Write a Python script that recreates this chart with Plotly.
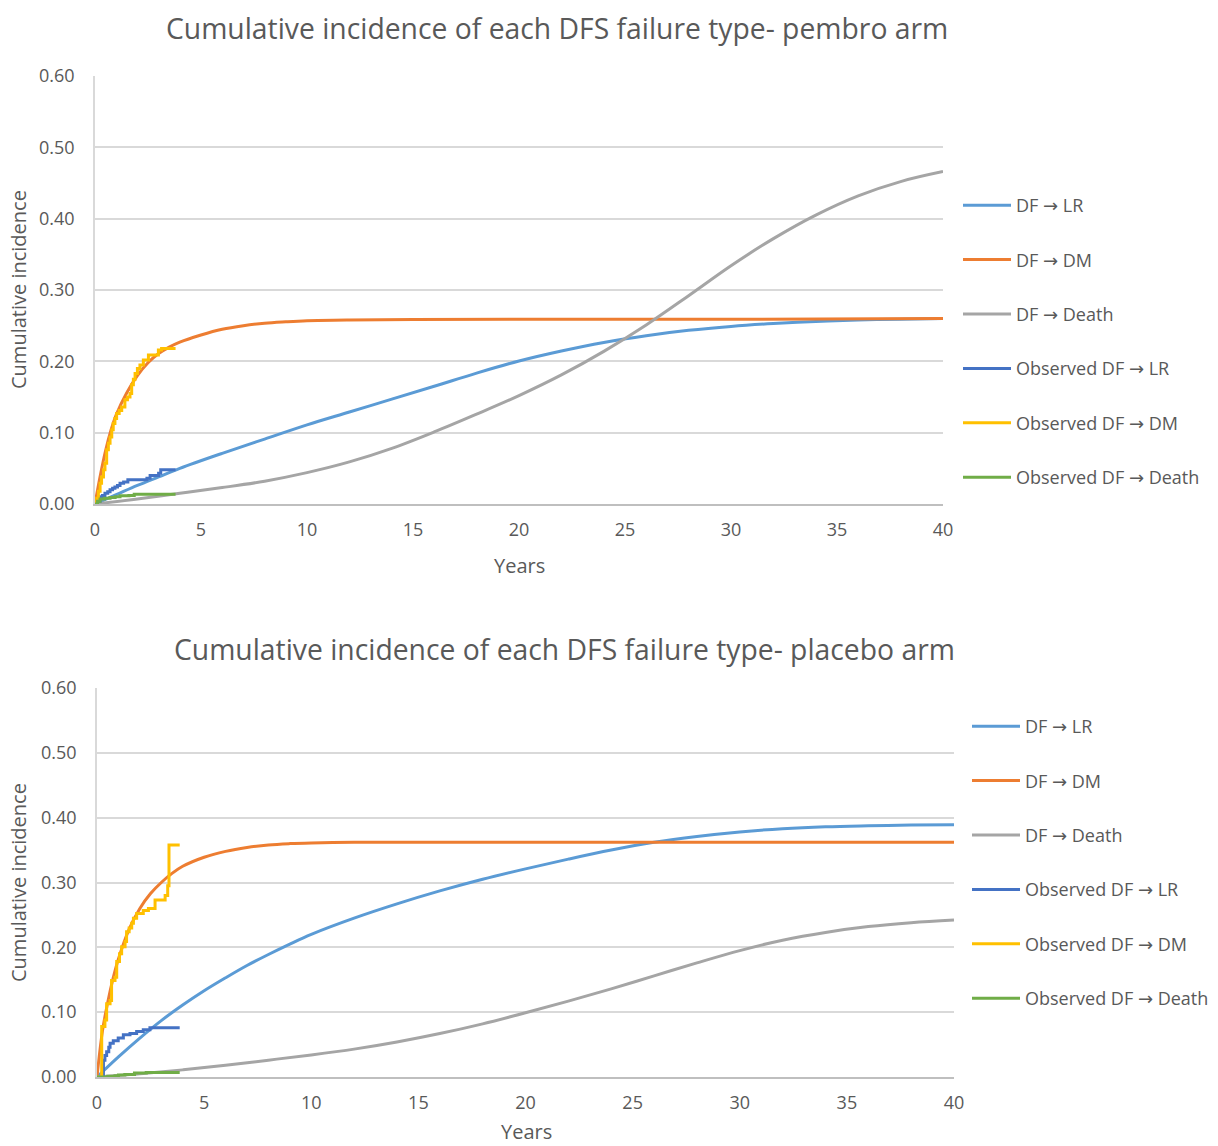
import plotly.graph_objects as go

W, H = 1218, 1146

# ---------------- pembro arm ----------------
pem_model_t = [0, 0.25, 0.5, 0.75, 1.0, 1.5, 2.0, 2.5, 3.0, 3.5, 4.0, 5.0, 6.0, 7.0, 8.0, 9.0, 10, 12, 15, 20, 30, 40]
pem_model_dm = [0, 0.040, 0.075, 0.103, 0.125, 0.156, 0.180, 0.198, 0.211, 0.220, 0.227, 0.237, 0.245, 0.250, 0.2535,
                0.2555, 0.257, 0.258, 0.2585, 0.259, 0.259, 0.260]

pem_lr_t = [0, 1, 2, 3, 4, 6, 8, 10, 12, 14, 16, 18, 20, 22, 24, 26, 28, 30, 32, 34, 36, 38, 40]
pem_model_lr = [0, 0.013, 0.026, 0.038, 0.050, 0.071, 0.091, 0.111, 0.129, 0.147, 0.165, 0.1835, 0.2005, 0.2145,
                0.2265, 0.236, 0.2435, 0.249, 0.253, 0.256, 0.258, 0.259, 0.260]

pem_death_t = [0, 2, 4, 6, 8, 10, 12, 14, 16, 18, 20, 22, 24, 26, 28, 30, 32, 34, 36, 38, 40]
pem_model_death = [0, 0.007, 0.015, 0.023, 0.032, 0.044, 0.059, 0.078, 0.101, 0.126, 0.152, 0.181, 0.214, 0.251,
                   0.292, 0.334, 0.372, 0.405, 0.432, 0.452, 0.466]

pem_obs_lr_t = [0, 0.1, 0.24, 0.35, 0.47, 0.6, 0.71, 0.83, 0.94, 1.06, 1.18, 1.35, 1.55, 2.45, 2.6, 3.0, 3.1, 3.80]
pem_obs_lr = [0, 0.004, 0.010, 0.012, 0.015, 0.017, 0.020, 0.022, 0.024, 0.026, 0.029, 0.031, 0.034, 0.036, 0.040,
              0.043, 0.048, 0.048]

pem_obs_dm_t = [0, 0.08, 0.16, 0.24, 0.31, 0.40, 0.47, 0.55, 0.63, 0.71, 0.79, 0.86, 0.94, 1.02, 1.14, 1.26, 1.41,
                1.53, 1.65, 1.73, 1.81, 1.89, 2.00, 2.12, 2.28, 2.52, 2.99, 3.14, 3.80]
pem_obs_dm = [0, 0.008, 0.018, 0.029, 0.038, 0.048, 0.057, 0.076, 0.085, 0.094, 0.104, 0.113, 0.120, 0.127, 0.131,
              0.136, 0.146, 0.150, 0.155, 0.167, 0.175, 0.183, 0.190, 0.195, 0.202, 0.209, 0.216, 0.218, 0.218]

pem_obs_death_t = [0, 0.12, 0.24, 0.45, 0.71, 0.95, 1.18, 1.6, 1.85, 3.80]
pem_obs_death = [0, 0.004, 0.007, 0.008, 0.009, 0.010, 0.0115, 0.012, 0.0135, 0.0135]

# ---------------- placebo arm ----------------
pla_model_t = [0, 0.25, 0.5, 0.75, 1.0, 1.5, 2.0, 2.5, 3.0, 3.5, 4.0, 5.0, 6.0, 7.0, 8.0, 9.0, 10, 12, 20, 40]
pla_model_dm = [0, 0.070, 0.115, 0.152, 0.182, 0.228, 0.260, 0.283, 0.300, 0.314, 0.325, 0.339, 0.348, 0.354, 0.358,
                0.360, 0.361, 0.362, 0.362, 0.362]

pla_lr_t = [0, 1, 2, 3, 4, 5, 6, 7, 8, 9, 10, 12, 14, 16, 18, 20, 22, 24, 26, 28, 30, 32, 34, 36, 38, 40]
pla_model_lr = [0, 0.031, 0.060, 0.087, 0.111, 0.133, 0.153, 0.172, 0.189, 0.205, 0.220, 0.245, 0.267, 0.287, 0.305,
                0.321, 0.336, 0.350, 0.362, 0.371, 0.378, 0.383, 0.386, 0.3875, 0.3885, 0.389]

pla_death_t = [0, 2, 4, 6, 8, 10, 12, 14, 16, 18, 20, 22, 24, 26, 28, 30, 32, 34, 36, 38, 40]
pla_model_death = [0, 0.005, 0.011, 0.018, 0.026, 0.034, 0.043, 0.054, 0.067, 0.082, 0.099, 0.117, 0.136, 0.156,
                   0.176, 0.195, 0.211, 0.223, 0.232, 0.238, 0.242]

pla_obs_lr_t = [0, 0.3, 0.37, 0.45, 0.55, 0.61, 0.76, 0.99, 1.23, 1.54, 1.85, 2.16, 2.47, 3.86]
pla_obs_lr = [0, 0.026, 0.033, 0.039, 0.046, 0.052, 0.056, 0.060, 0.065, 0.067, 0.070, 0.073, 0.076, 0.076]

pla_obs_dm_t = [0, 0.22, 0.37, 0.45, 0.61, 0.68, 0.84, 0.92, 1.05, 1.15, 1.31, 1.38, 1.5, 1.62, 1.70, 1.85,
                2.16, 2.4, 2.71, 3.18, 3.30, 3.36, 3.86]
pla_obs_dm = [0, 0.078, 0.088, 0.113, 0.118, 0.149, 0.154, 0.178, 0.190, 0.201, 0.209, 0.224, 0.230, 0.237, 0.245,
              0.252, 0.257, 0.260, 0.273, 0.280, 0.295, 0.358, 0.358]

pla_obs_death_t = [0, 0.5, 0.84, 1.0, 1.3, 1.75, 2.3, 3.86]
pla_obs_death = [0, 0.001, 0.002, 0.003, 0.004, 0.006, 0.007, 0.007]

ARROW = '<span style="font-family:\'DejaVu Sans\'">\u2192</span>'
series_names = [f"DF {ARROW} LR", f"DF {ARROW} DM", f"DF {ARROW} Death",
                f"Observed DF {ARROW} LR", f"Observed DF {ARROW} DM", f"Observed DF {ARROW} Death"]
series_colors = ["#5B9BD5", "#ED7D31", "#A5A5A5", "#4472C4", "#FFC000", "#70AD47"]

titles = ["Cumulative incidence of each DFS failure type- pembro arm",
          "Cumulative incidence of each DFS failure type- placebo arm"]
x_ticks = [0, 5, 10, 15, 20, 25, 30, 35, 40]
y_ticks = [0.0, 0.1, 0.2, 0.3, 0.4, 0.5, 0.6]

TXT = "#595959"
FONT = "Open Sans"


def px_x(p):
    return p / W


def px_y(p):
    return (H - p) / H


fig = go.Figure()

panels = [
    dict(
        xa="x", ya="y", legend="legend",
        data=[(pem_lr_t, pem_model_lr), (pem_model_t, pem_model_dm), (pem_death_t, pem_model_death),
              (pem_obs_lr_t, pem_obs_lr), (pem_obs_dm_t, pem_obs_dm), (pem_obs_death_t, pem_obs_death)],
    ),
    dict(
        xa="x2", ya="y2", legend="legend2",
        data=[(pla_lr_t, pla_model_lr), (pla_model_t, pla_model_dm), (pla_death_t, pla_model_death),
              (pla_obs_lr_t, pla_obs_lr), (pla_obs_dm_t, pla_obs_dm), (pla_obs_death_t, pla_obs_death)],
    ),
]

for pi, panel in enumerate(panels):
    for i, (t, v) in enumerate(panel["data"]):
        observed = i >= 3
        fig.add_trace(go.Scatter(
            x=t, y=v, mode="lines", name=series_names[i],
            line=dict(color=series_colors[i], width=3,
                      shape="hv" if observed else "spline",
                      smoothing=None if observed else 1.0),
            xaxis=panel["xa"], yaxis=panel["ya"], legend=panel["legend"],
            legendgroup=f"p{pi}s{i}", showlegend=True,
        ))

axis_common = dict(
    range=[0, 40], tickvals=x_ticks, ticktext=[str(v) for v in x_ticks],
    showgrid=False, zeroline=False, showline=True, linecolor="#BFBFBF", linewidth=2,
    ticks="", tickfont=dict(family=FONT, size=18, color=TXT), ticklabelstandoff=8,
    automargin=False,
)
yaxis_common = dict(
    range=[0, 0.6], tickvals=y_ticks, tickformat=".2f",
    showgrid=True, gridcolor="#D9D9D9", gridwidth=1.5, zeroline=False,
    showline=True, linecolor="#D9D9D9", linewidth=1.5,
    ticks="", tickfont=dict(family=FONT, size=18, color=TXT), ticklabelstandoff=15,
    automargin=False,
)

legend_common = dict(
    font=dict(family=FONT, size=18, color=TXT), bgcolor="rgba(0,0,0,0)",
    traceorder="grouped", tracegroupgap=28, itemwidth=48,
    xanchor="left", yanchor="top", itemclick=False, itemdoubleclick=False,
)

fig.update_layout(
    width=W, height=H, margin=dict(l=0, r=0, t=0, b=0, autoexpand=False),
    paper_bgcolor="white", plot_bgcolor="white",
    xaxis=dict(domain=[px_x(95), px_x(943)], anchor="y", **axis_common),
    yaxis=dict(domain=[px_y(504), px_y(76)], anchor="x", **yaxis_common),
    xaxis2=dict(domain=[px_x(97), px_x(954)], anchor="y2", **axis_common),
    yaxis2=dict(domain=[px_y(1077), px_y(688)], anchor="x2", **yaxis_common),
    legend=dict(x=px_x(958), y=px_y(187), **legend_common),
    legend2=dict(x=px_x(967), y=px_y(708), **legend_common),
)

# chart titles and axis titles
annots = [
    (titles[0], 557, 28, 0, 28.3),
    (titles[1], 564, 649, 0, 28.3),
    ("Years", 519, 565, 0, 20),
    ("Years", 526, 1131, 0, 20),
    ("Cumulative incidence", 18, 290, -90, 20),
    ("Cumulative incidence", 18, 883, -90, 20),
]
for text, x, y, ang, size in annots:
    fig.add_annotation(
        text=text, x=px_x(x), y=px_y(y), xref="paper", yref="paper",
        xanchor="center", yanchor="middle", showarrow=False, textangle=ang,
        font=dict(family=FONT, size=size, color=TXT),
    )

fig.write_html("out.html")
